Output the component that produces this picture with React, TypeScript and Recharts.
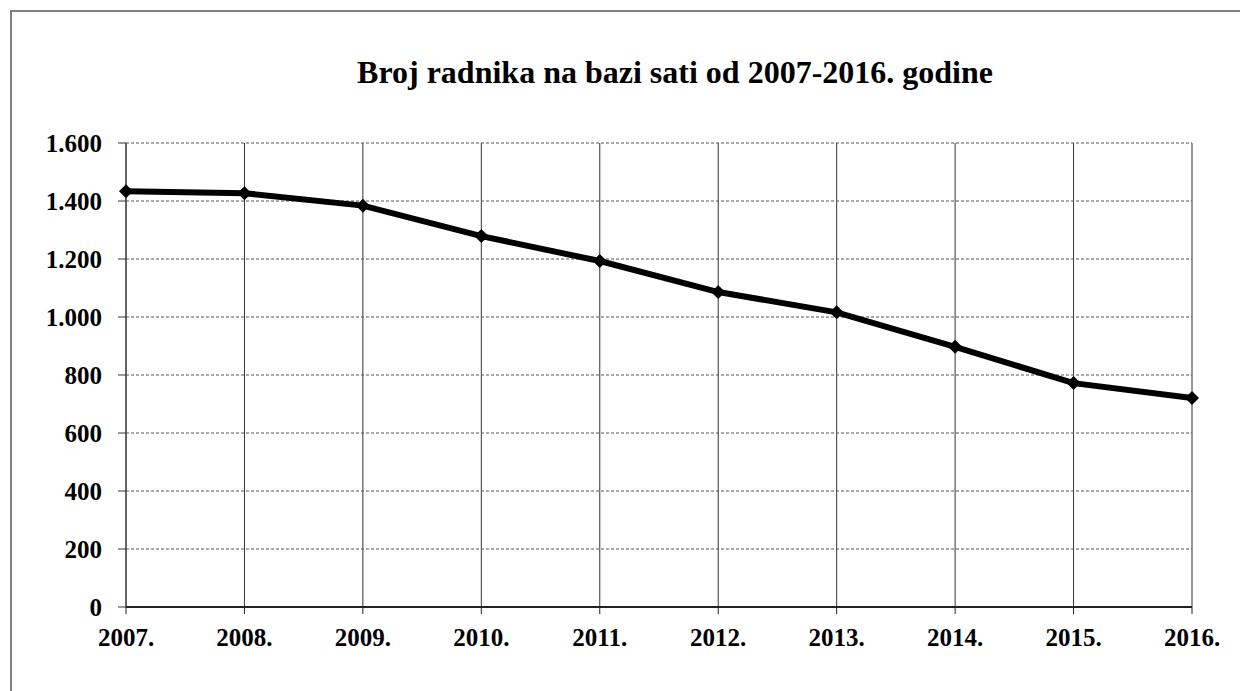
import React from "react";
import { LineChart, Line, XAxis, YAxis, CartesianGrid } from "recharts";

// Godine i broj radnika (očitano s grafikona)
const years = ["2007.", "2008.", "2009.", "2010.", "2011.", "2012.", "2013.", "2014.", "2015.", "2016."];
const workers = [1434, 1427, 1384, 1279, 1193, 1086, 1016, 897, 772, 721];
const yTicks = [0, 200, 400, 600, 800, 1000, 1200, 1400, 1600];

const data = years.map((y, i) => ({ year: y, value: workers[i] }));

const serif = "Liberation Serif";

// romb kao marker
const Diamond = (props: any) => {
  const { cx, cy, index } = props;
  if (cx == null || cy == null) return null;
  const r = 7;
  return (
    <path
      key={"d" + index}
      d={`M${cx},${cy - r} L${cx + r},${cy} L${cx},${cy + r} L${cx - r},${cy} Z`}
      fill="#000"
    />
  );
};

const fmt = (v: number) => v.toLocaleString("de-DE");

const App = () => {
  return (
    <div
      style={{
        position: "absolute",
        left: 0,
        top: 0,
        width: 1240,
        height: 691,
        overflow: "hidden",
        background: "#fff",
      }}
    >
      <div
        style={{
          position: "absolute",
          left: 10,
          top: 10,
          width: 1260,
          height: 720,
          border: "2px solid #808080",
        }}
      />
      <div
        style={{
          position: "absolute",
          left: 675,
          top: 56,
          transform: "translateX(-50%)",
          whiteSpace: "nowrap",
          fontFamily: serif,
          fontWeight: "bold",
          fontSize: 32,
          lineHeight: "32px",
          color: "#000",
        }}
      >
        Broj radnika na bazi sati od 2007-2016. godine
      </div>
      <div style={{ position: "absolute", left: 0, top: 0 }}>
        <LineChart
          width={1240}
          height={691}
          data={data}
          margin={{ top: 143, right: 48, left: 26, bottom: 24 }}
        >
          <CartesianGrid horizontal={false} stroke="#333" strokeWidth={1} />
          <CartesianGrid vertical={false} stroke="#555" strokeDasharray="3 2" />
          <XAxis
            dataKey="year"
            scale="point"
            padding={{ left: 0, right: 0 }}
            height={60}
            axisLine={{ stroke: "#222", strokeWidth: 2 }}
            tickLine={{ stroke: "#222" }}
            tickSize={7}
            tickMargin={14}
            tick={{ fill: "#000", fontFamily: serif, fontWeight: "bold", fontSize: 25 }}
          />
          <YAxis
            width={100}
            domain={[0, 1600]}
            ticks={yTicks}
            tickFormatter={fmt}
            axisLine={{ stroke: "#333" }}
            tickLine={{ stroke: "#333" }}
            tickSize={8}
            tickMargin={16}
            tick={{ fill: "#000", fontFamily: serif, fontWeight: "bold", fontSize: 25 }}
          />
          <Line
            type="linear"
            dataKey="value"
            stroke="#000"
            strokeWidth={6}
            dot={Diamond}
            activeDot={false}
            isAnimationActive={false}
          />
        </LineChart>
      </div>
    </div>
  );
};

export default App;
